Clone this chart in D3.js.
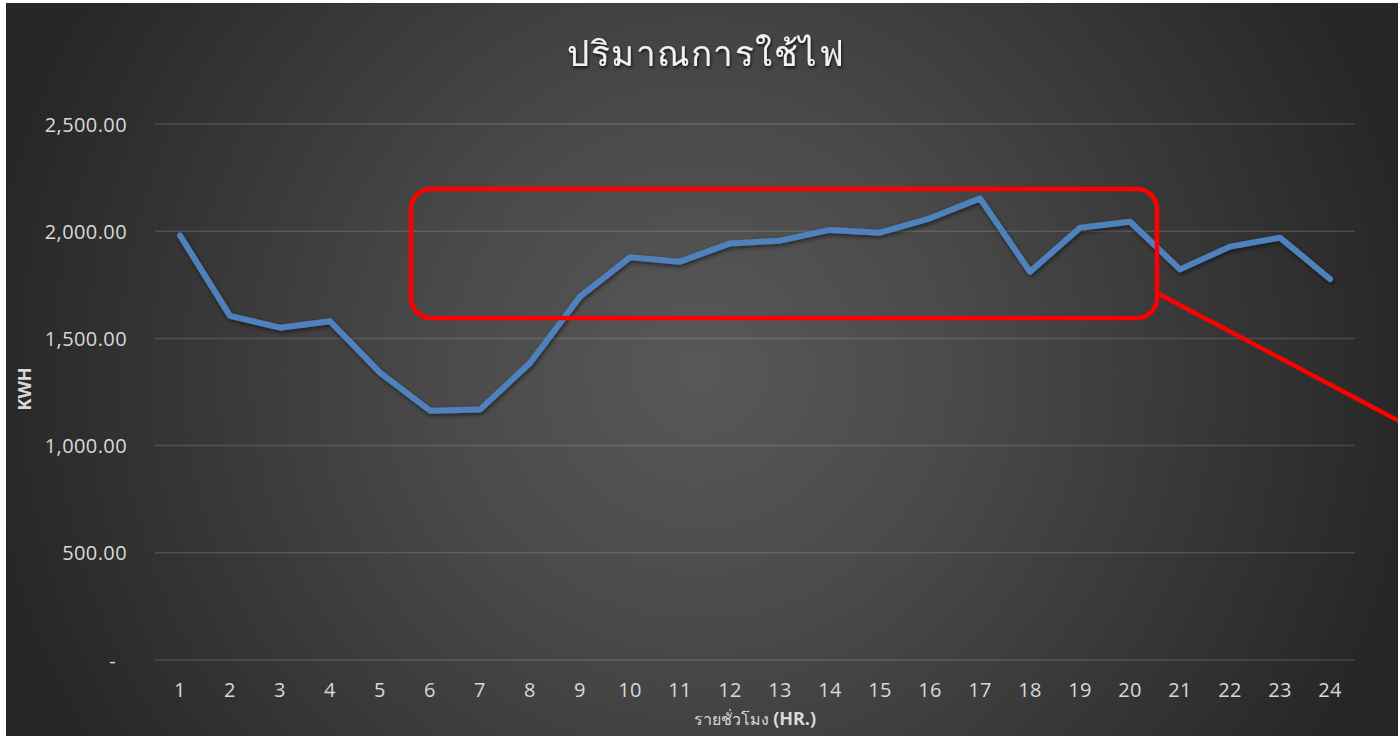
<!DOCTYPE html>
<html>
<head>
<meta charset="utf-8">
<script src="https://cdn.jsdelivr.net/npm/d3@7"></script>
<style>
	html, body { margin: 0; padding: 0; background: #ffffff; overflow: hidden; }
	svg { display: block; }
	.axis text { fill: #d9d9d9; font-family: "Open Sans", "Noto Sans", sans-serif; font-size: 20px; letter-spacing: 0.4px; }
	.axis path, .axis line { display: none; }
</style>
</head>
<body>
<div id="line_chart"></div>
<script>
// chart data
var hours = ["1","2","3","4","5","6","7","8","9","10","11","12","13","14","15","16","17","18","19","20","21","22","23","24"];
var kwh = [1980, 1605, 1550, 1580, 1340, 1163, 1168, 1385, 1695, 1878, 1858, 1943, 1956, 2006, 1993, 2060, 2153, 1811, 2016, 2044, 1822, 1928, 1970, 1777];
var yTicks = [0, 500, 1000, 1500, 2000, 2500];
var chartTitle = "ปริมาณการใช้ไฟ";
var xTitle = "รายชั่วโมง ";
var xTitleUnit = "(HR.)";
var yTitle = "KWH";
// highlight box (hour / kwh units) and its pointer line
var boxHours = [5.62, 20.54];
var boxKwh = [1595, 2197];
var pointerHours = [20.54, 25.4];
var pointerKwh = [1712, 1112];

var width = 1398, height = 736;
var margin = {left: 155, right: 43, top: 124, bottom: 76};

var svg = d3.select("#line_chart").append("svg")
	.attr("width", width)
	.attr("height", height);

var defs = svg.append("defs");
var grad = defs.append("radialGradient")
	.attr("id", "bg")
	.attr("gradientUnits", "userSpaceOnUse")
	.attr("cx", 700).attr("cy", 370)
	.attr("r", 730);
grad.append("stop").attr("offset", "0%").attr("stop-color", "#585858");
grad.append("stop").attr("offset", "35%").attr("stop-color", "#4a4a4a");
grad.append("stop").attr("offset", "100%").attr("stop-color", "#262626");

var shadow = defs.append("filter").attr("id", "shadow")
	.attr("x", "-5%").attr("y", "-20%").attr("width", "110%").attr("height", "140%");
shadow.append("feDropShadow")
	.attr("dx", 1).attr("dy", 2).attr("stdDeviation", 2)
	.attr("flood-color", "#000").attr("flood-opacity", 0.55);

var tshadow = defs.append("filter").attr("id", "tshadow");
tshadow.append("feDropShadow")
	.attr("dx", 1).attr("dy", 2).attr("stdDeviation", 1.5)
	.attr("flood-color", "#000").attr("flood-opacity", 0.7);

// background
svg.append("rect")
	.attr("x", 6).attr("y", 3)
	.attr("width", width - 6).attr("height", height - 3)
	.attr("fill", "url(#bg)");

// scales
var x = d3.scaleBand()
	.domain(hours)
	.range([margin.left, width - margin.right]);

var xNum = d3.scaleLinear()
	.domain([1, 24])
	.range([x("1") + x.bandwidth() / 2, x("24") + x.bandwidth() / 2]);

var y = d3.scaleLinear()
	.domain([0, 2500])
	.range([height - margin.bottom, margin.top]);

// gridlines
svg.append("g")
	.selectAll("line")
	.data(yTicks)
	.enter().append("line")
	.attr("x1", margin.left)
	.attr("x2", width - margin.right)
	.attr("y1", function(d) { return y(d); })
	.attr("y2", function(d) { return y(d); })
	.attr("stroke", "#ffffff")
	.attr("stroke-opacity", 0.14)
	.attr("stroke-width", 1.5);

// y axis
var fmt = d3.format(",.2f");
var yAxis = d3.axisLeft(y)
	.tickValues(yTicks)
	.tickSize(0)
	.tickPadding(0)
	.tickFormat(function(d) { return d === 0 ? "-" : fmt(d); });

var yAxisG = svg.append("g")
	.attr("class", "axis")
	.attr("transform", "translate(127,0)")
	.call(yAxis);
yAxisG.selectAll("text").attr("dy", "0.35em");
yAxisG.selectAll(".tick").filter(function(d) { return d === 0; })
	.select("text").attr("dx", "-11");

// x axis
var xAxis = d3.axisBottom(x)
	.tickSize(0)
	.tickPadding(0);

svg.append("g")
	.attr("class", "axis")
	.attr("transform", "translate(0," + (height - margin.bottom + 23) + ")")
	.call(xAxis);

// line
var line = d3.line()
	.x(function(d, i) { return x(hours[i]) + x.bandwidth() / 2; })
	.y(function(d) { return y(d); });

svg.append("path")
	.datum(kwh)
	.attr("d", line)
	.attr("fill", "none")
	.attr("stroke", "#4f81bd")
	.attr("stroke-width", 6)
	.attr("stroke-linejoin", "round")
	.attr("stroke-linecap", "round")
	.attr("filter", "url(#shadow)");

// highlight annotation
svg.append("rect")
	.attr("x", xNum(boxHours[0]))
	.attr("y", y(boxKwh[1]))
	.attr("width", xNum(boxHours[1]) - xNum(boxHours[0]))
	.attr("height", y(boxKwh[0]) - y(boxKwh[1]))
	.attr("rx", 20).attr("ry", 20)
	.attr("fill", "none")
	.attr("stroke", "#ff0000")
	.attr("stroke-width", 4.5);

svg.append("line")
	.attr("x1", xNum(pointerHours[0]))
	.attr("y1", y(pointerKwh[0]))
	.attr("x2", xNum(pointerHours[1]))
	.attr("y2", y(pointerKwh[1]))
	.attr("stroke", "#ff0000")
	.attr("stroke-width", 4.5);

// titles
svg.append("text")
	.attr("x", 706)
	.attr("y", 66)
	.attr("text-anchor", "middle")
	.attr("fill", "#f2f2f2")
	.attr("filter", "url(#tshadow)")
	.style("font-family", "'Noto Sans', 'Open Sans', sans-serif")
	.style("font-size", "35px")
	.style("letter-spacing", "1.5px")
	.text(chartTitle);

var xt = svg.append("text")
	.attr("x", 755)
	.attr("y", 725)
	.attr("text-anchor", "middle")
	.attr("fill", "#d9d9d9")
	.style("font-family", "'Noto Sans', 'Open Sans', sans-serif")
	.style("font-size", "16px");
xt.append("tspan").text(xTitle);
xt.append("tspan").style("font-weight", "bold").style("font-size", "18px").text(xTitleUnit);

svg.append("text")
	.attr("transform", "translate(31,389) rotate(-90)")
	.attr("text-anchor", "middle")
	.attr("fill", "#d9d9d9")
	.style("font-family", "'Open Sans', 'Noto Sans', sans-serif")
	.style("font-size", "18px")
	.style("font-weight", "bold")
	.text(yTitle);
</script>
</body>
</html>
